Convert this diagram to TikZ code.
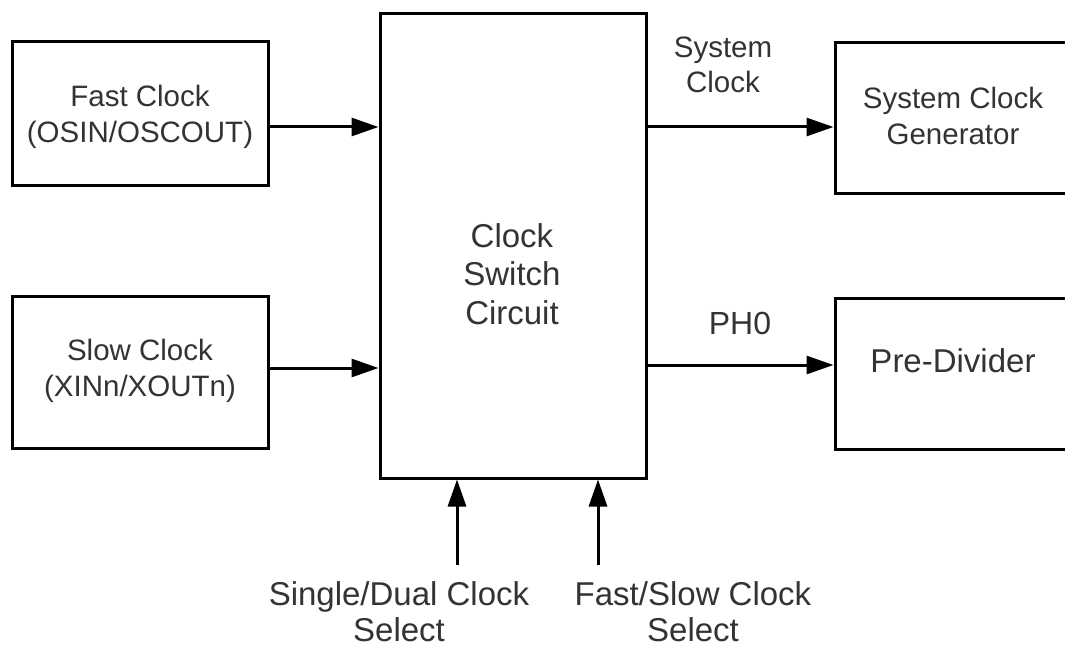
\documentclass[tikz,border=0pt]{standalone}
\usepackage{fontspec}
\setmainfont{Liberation Sans}
\usetikzlibrary{arrows.meta}
\begin{document}
\begin{tikzpicture}[x=1pt,y=-1pt,
  box/.style={draw=black,line width=3pt,rectangle,inner sep=0pt},
  lbl/.style={align=center,font=\fontsize{29.5}{35.5}\selectfont,text=black!80,inner sep=0pt},
  big/.style={align=center,font=\fontsize{33}{38.5}\selectfont,text=black!80,inner sep=0pt},
  arr/.style={line width=3pt,-{Triangle[length=27pt,width=18pt]}}]
\useasboundingbox (0,0) rectangle (1065,650);
\clip (0,0) rectangle (1065,650);
\node[box,minimum width=256pt,minimum height=143pt] (fast) at (140,113.5) {};
\node[lbl] (fastt) at (140,117) {Fast Clock\\(OSIN/OSCOUT)};
\node[box,minimum width=256pt,minimum height=152pt] (slow) at (140,372) {};
\node[lbl] (slowt) at (140,371) {Slow Clock\\(XINn/XOUTn)};
\node[box,minimum width=266pt,minimum height=464pt] (sw) at (513,246) {};
\node[big] (swt) at (512,274) {Clock\\Switch\\Circuit};
\node[box,minimum width=240pt,minimum height=150pt] (gen) at (955,118) {};
\node[lbl] (gent) at (953,116) {System Clock\\Generator};
\node[box,minimum width=240pt,minimum height=151pt] (pre) at (955,373.5) {};
\node[big] (pret) at (953,361) {Pre-Divider};
\node[lbl] (sysl) at (723,65) {System\\Clock};
\node[big,font=\fontsize{32}{38}\selectfont] (phl) at (740,323) {PH0};
\node[big,font=\fontsize{33}{36}\selectfont] (sd) at (399,612) {Single/Dual Clock\\Select};
\node[big,font=\fontsize{33}{36}\selectfont] (fs) at (693,612) {Fast/Slow Clock\\Select};
\coordinate (sdtail) at (457,565);
\coordinate (fstail) at (598,565);
\draw[arr] (fast.east |- 0,127) -- (sw.west |- 0,127);
\draw[arr] (slow.east |- 0,368) -- (sw.west |- 0,368);
\draw[arr] (sw.east |- 0,127) -- (gen.west |- 0,127);
\draw[arr] (sw.east |- 0,365) -- (pre.west |- 0,365);
\draw[arr] (sdtail) -- (sdtail |- sw.south);
\draw[arr] (fstail) -- (fstail |- sw.south);
\end{tikzpicture}
\end{document}
